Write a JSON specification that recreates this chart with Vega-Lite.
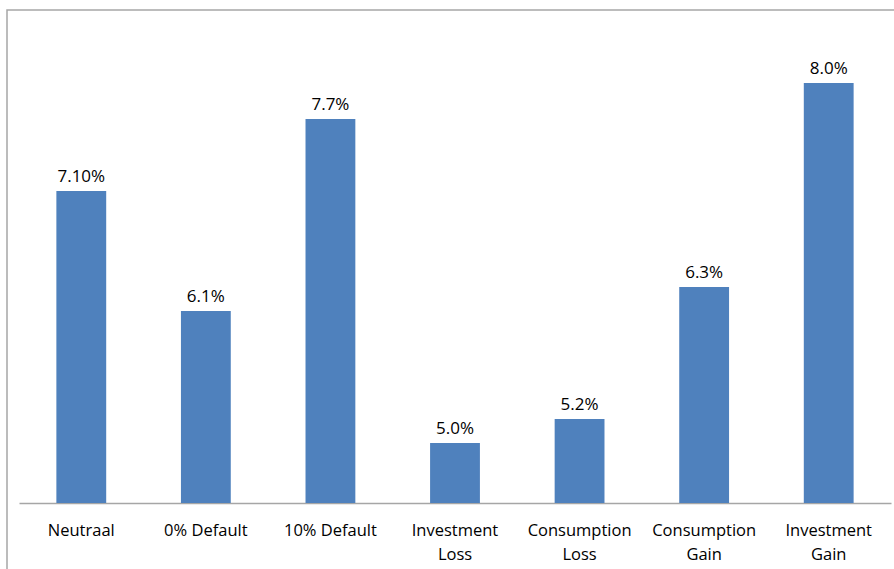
{
  "$schema": "https://vega.github.io/schema/vega-lite/v6.json",
  "autosize": "none",
  "padding": {"left": 7, "top": 10, "right": 0, "bottom": 0},
  "width": 900,
  "height": 580,
  "background": "white",
  "config": {
    "view": {"stroke": "#A6A6A6", "strokeWidth": 1.5},
    "font": "Open Sans"
  },
  "data": {
    "values": [
      {"scenario": "Neutraal", "value": 7.1, "label": "7.10%"},
      {"scenario": "0% Default", "value": 6.1, "label": "6.1%"},
      {"scenario": "10% Default", "value": 7.7, "label": "7.7%"},
      {"scenario": "Investment Loss", "value": 5.0, "label": "5.0%"},
      {"scenario": "Consumption Loss", "value": 5.2, "label": "5.2%"},
      {"scenario": "Consumption Gain", "value": 6.3, "label": "6.3%"},
      {"scenario": "Investment Gain", "value": 8.0, "label": "8.0%"}
    ]
  },
  "encoding": {
    "x": {
      "field": "scenario",
      "type": "nominal",
      "sort": null,
      "scale": {"range": [12, 884], "paddingInner": 0.6, "paddingOuter": 0.3},
      "axis": {
        "title": null,
        "orient": "bottom",
        "offset": -87,
        "domainColor": "#A6A6A6",
        "domainWidth": 1.5,
        "ticks": false,
        "labelAngle": 0,
        "labelFont": "Open Sans",
        "labelFontSize": 16.5,
        "labelColor": "#000000",
        "labelPadding": 19,
        "labelLineHeight": 24,
        "labelBaseline": "top",
        "labelExpr": "test(/^(Investment|Consumption) /, datum.label) ? split(datum.label, ' ') : datum.label"
      }
    },
    "y": {
      "field": "value",
      "type": "quantitative",
      "scale": {"domain": [3.775, 8.6083], "nice": false, "zero": false},
      "axis": null
    }
  },
  "layer": [
    {
      "mark": {"type": "bar", "color": "#4F81BD"},
      "encoding": {"y2": {"datum": 4.5}}
    },
    {
      "mark": {"type": "text", "baseline": "bottom", "dy": -5, "fontSize": 17, "font": "Open Sans", "color": "#000000"},
      "encoding": {"text": {"field": "label"}}
    }
  ]
}
